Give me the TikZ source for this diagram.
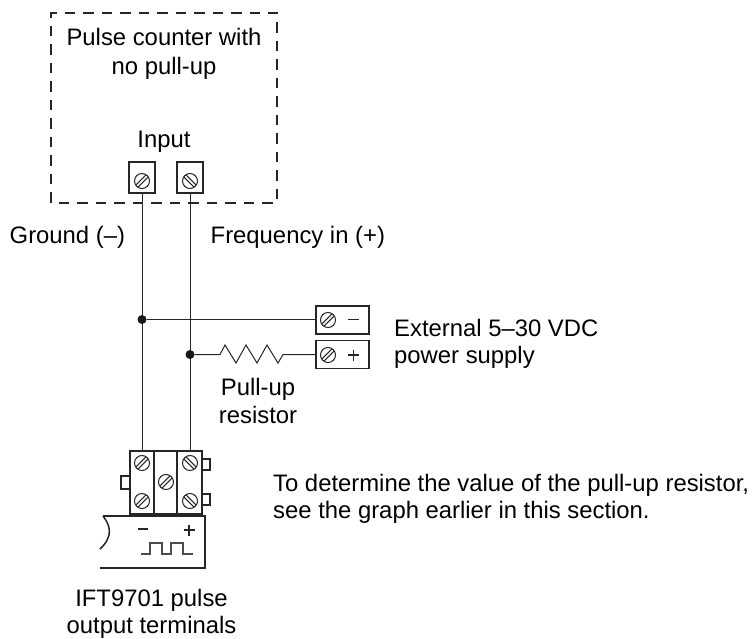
\documentclass[tikz,border=0pt]{standalone}
\usepackage{fontspec}
\setmainfont{Liberation Sans}
\tikzset{
  x=1pt,y=-1pt,
  wire/.style={line width=1pt,black!85},
  box/.style={draw=black!85,line width=1.6pt,fill=white,inner sep=0pt,minimum width=0pt},
  tab/.style={draw=black!85,line width=1.5pt,fill=white},
  screw/.style={draw=black!85,line width=1pt},
  label/.style={font=\fontsize{23.85}{28}\selectfont,inner sep=0pt,anchor=base,text=black},
  lab/.style={label,anchor=base west},
  dot/.style={circle,fill=black!90,inner sep=0pt,minimum size=9pt},
  sign/.style={line width=1.4pt,black!85}
}
\newcommand{\myscrew}[3]{%
  \begin{scope}[shift={(#1,#2)},rotate=#3]
    \draw[screw] (0,0) circle (7.5);
    \draw[screw] (-7,-1.5) -- (7,-1.5);
    \draw[screw] (-7,1.5) -- (7,1.5);
  \end{scope}}
\begin{document}
\begin{tikzpicture}
\useasboundingbox (0,0) rectangle (752,639);
% dashed enclosure
\draw[line width=1.3pt,black!85,dash pattern=on 10.5pt off 8pt] (51,203) -- (51,13) -- (277,13) -- (277,203) -- cycle;
% terminals
\node[box,minimum width=26pt,minimum height=31pt] (tg) at (142,177.5) {};
\node[box,minimum width=26pt,minimum height=31pt] (tf) at (190,177.5) {};
\node[box,minimum width=53pt,minimum height=28pt] (sm) at (342.5,320) {};
\node[box,minimum width=53pt,minimum height=28pt] (sp) at (342.5,354.5) {};
% terminal block
\draw[tab] (202,459) rectangle (210,470);
\draw[tab] (202,494) rectangle (210,505);
\draw[tab] (121,476) rectangle (130,489);
\node[box,minimum width=72pt,minimum height=63pt] (blk) at (166,482.5) {};
\coordinate (bg) at (142,451);
\coordinate (bf) at (190,451);
\draw[box] (154,451) -- (154,514);
\draw[box] (177,451) -- (177,514);
% wires
\draw[wire] (tg.south) -- (bg);
\draw[wire] (tf.south) -- (bf);
\node[dot] (j1) at (142,319.5) {};
\node[dot] (j2) at (190,354.5) {};
\coordinate (rs) at (220,354.5);
\coordinate (re) at (283,354.5);
\draw[wire] (j1) -- (j1 -| sm.west);
\draw[wire] (j2) -- (rs) -- (225,345) -- (236,363) -- (246,345) -- (257,363) -- (267,345) -- (278,363) -- (re) -- (sp.west);
% screws
\myscrew{142}{181}{45}
\myscrew{190}{181}{-45}
\myscrew{328}{320}{45}
\myscrew{328}{355}{45}
\myscrew{142}{463}{45}
\myscrew{142}{501}{45}
\myscrew{166}{482}{45}
\myscrew{190}{463}{-45}
\myscrew{190}{501}{-45}
% signs
\draw[sign] (348,319.5) -- (359,319.5);
\draw[sign] (348,355) -- (359,355) (353.5,349.5) -- (353.5,360.5);
% transmitter body
\draw[box,fill=none] (103,516) -- (205,516) -- (205,568) -- (100,568);
\draw[line width=1.5pt,black!85] (103,516) .. controls (110,525) and (114,536) .. (100,549);
\draw[sign] (138,529) -- (148,529);
\draw[sign] (183.5,530) -- (194.5,530) (189,524.5) -- (189,535.5);
\draw[line width=1.1pt,black!70] (141,554) -- (150,554) -- (150,543) -- (162,543) -- (162,554) -- (171,554) -- (171,543) -- (183,543) -- (183,554) -- (193,554);
% labels
\node[label] (t1) at (164,46) {Pulse counter with};
\node[label] (t2) at (164,75) {no pull-up};
\node[label] (t3) at (164,148) {Input};
\node[lab] (t4) at (9.5,243) {Ground (–)};
\node[lab] (t5) at (210.5,243) {Frequency in (+)};
\node[lab] (t6) at (394,336.5) {External 5–30 VDC};
\node[lab] (t7) at (394,363.5) {power supply};
\node[label] (t8) at (258,395.5) {Pull-up};
\node[label] (t9) at (258,423) {resistor};
\node[lab] (t10) at (273,491) {To determine the value of the pull-up resistor,};
\node[lab] (t11) at (273,518) {see the graph earlier in this section.};
\node[label] (t12) at (151.5,606) {IFT9701 pulse};
\node[label] (t13) at (151.5,633) {output terminals};
\end{tikzpicture}
\end{document}
